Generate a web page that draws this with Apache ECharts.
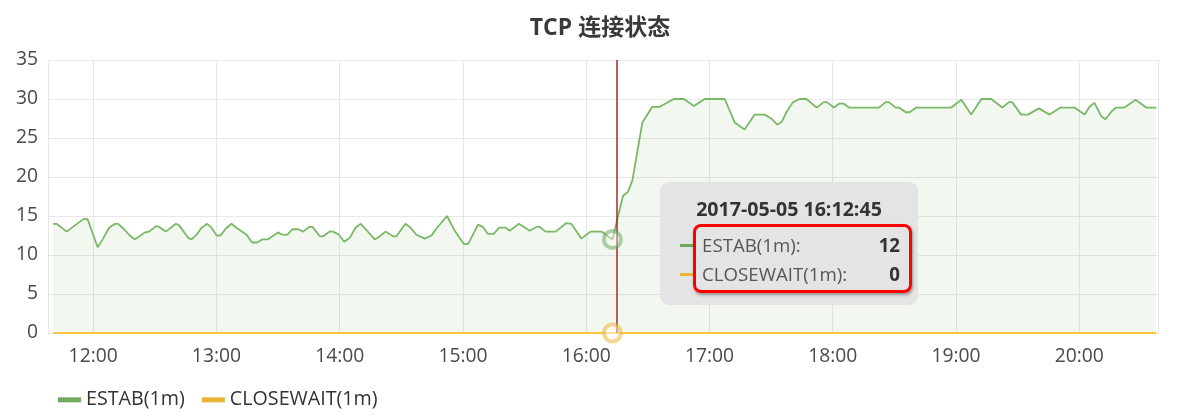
<!DOCTYPE html>
<html>
<head>
<meta charset="utf-8">
<script src="https://cdn.jsdelivr.net/npm/echarts@6/dist/echarts.min.js"></script>
<style>
  html, body { margin: 0; padding: 0; background: #fff; }
  #chart { width: 1200px; height: 418px; }
</style>
</head>
<body>
<div id="chart"></div>
<script>
// ---------- data ----------
const day = '2017-05-05';
const titleText = 'TCP 连接状态';
const seriesNames = ['ESTAB(1m)', 'CLOSEWAIT(1m)'];

const estabTimes = [
  '11:40:30','11:42:10','11:47:05','11:55:10','11:57:15','12:02:10','12:04:50','12:07:45','12:10:35','12:12:10',
  '12:14:35','12:17:50','12:20:15','12:25:10','12:27:15','12:30:30','12:32:05','12:35:20','12:40:15','12:41:50',
  '12:46:15','12:47:55','12:50:20','12:52:45','12:55:30','12:57:35','13:00:05','13:02:00','13:04:35','13:07:20',
  '13:10:15','13:14:40','13:17:20','13:19:50','13:22:15','13:24:50','13:30:00','13:32:00','13:34:35','13:37:00',
  '13:39:45','13:42:10','13:45:05','13:46:45','13:50:20','13:51:55','13:55:10','13:56:45','13:59:40','14:02:10',
  '14:04:55','14:07:40','14:10:15','14:12:40','14:17:05','14:19:30','14:22:15','14:26:00','14:27:35','14:32:00',
  '14:34:05','14:37:20','14:41:25','14:44:40','14:47:05','14:52:15','14:56:00','15:00:25','15:02:30','15:07:20',
  '15:09:45','15:12:10','15:15:00','15:17:35','15:20:50','15:22:45','15:27:15','15:32:30','15:35:45','15:37:20',
  '15:40:15','15:45:10','15:50:20','15:52:45','15:57:40','16:02:00','16:07:25','16:12:45','16:17:55','16:20:20',
  '16:22:30','16:27:20','16:32:10','16:35:45','16:42:35','16:47:35','16:52:25','16:57:40','17:07:25','17:12:15',
  '17:17:05','17:22:00','17:26:50','17:30:05','17:33:00','17:35:15','17:37:25','17:40:40','17:43:55','17:47:10',
  '17:52:15','17:55:35','17:57:10','18:00:35','18:03:00','18:05:25','18:07:50','18:22:30','18:25:45','18:27:20',
  '18:30:35','18:32:15','18:35:30','18:37:25','18:40:40','18:57:40','19:02:35','19:07:25','19:12:20','19:17:10',
  '19:22:30','19:25:45','19:27:20','19:31:45','19:35:00','19:40:20','19:45:30','19:50:55','19:57:40','20:02:35',
  '20:05:00','20:07:25','20:10:40','20:12:45','20:16:00','20:18:00','20:22:00','20:27:25','20:32:35','20:37:30'
];
const estabValues = [
  14,14,13,14.6,14.6,11,12.1,13.5,14,14,
  13.4,12.5,12,12.9,13,13.7,13.6,13,14,13.8,
  12.2,12,12.6,13.5,14,13.5,12.5,12.5,13.4,14,
  13.4,12.6,11.6,11.6,12,12,12.9,12.6,12.6,13.3,
  13.3,13,13.6,13.6,12.4,12.4,13,13,12.6,11.7,
  12.2,13.5,14,13.3,12,12.4,13,12.4,12.4,14,
  13.6,12.6,12.1,12.5,13.4,15,13.1,11.4,11.4,13.9,
  13.6,12.7,12.7,13.5,13.5,13.1,14,13.1,13.6,13.6,
  13,13,14.1,14,12.1,13,13,12,17.6,18.1,
  19.6,27,29,29,30,30,29.1,30,30,27,
  26.1,28,28,27.5,26.7,27.1,28.3,29.6,30,30,
  28.9,29.6,29.6,28.9,29.4,29.4,28.9,28.9,29.6,29.6,
  28.9,28.9,28.3,28.3,28.9,28.9,29.9,28,30,30,
  28.9,29.6,29.6,28,28,28.8,28,28.9,28.9,28,
  29,29.5,27.8,27.4,28.5,28.9,28.9,29.9,28.9,28.9
];
const closeTimes = ['11:40:30', '16:12:45', '20:37:30'];
const closeValues = [0, 0, 0];

const axisMinTime = '11:38:00';
const axisMaxTime = '20:38:20';
const yTicks = [0, 5, 10, 15, 20, 25, 30, 35];

const tipTime = '16:12:45';     // hovered sample shown in the tooltip
const cursorTime = '16:14:40';  // position of the red crosshair

// ---------- styles ----------
const GREEN = '#6fa85e';
const ORANGE = '#e8b43a';
const FONT = "'Open Sans', 'Noto Sans CJK SC', sans-serif";

const full = t => day + ' ' + t;
const estabData = estabTimes.map((t, i) => [full(t), estabValues[i]]);
const closeData = closeTimes.map((t, i) => [full(t), closeValues[i]]);
const tipIndex = estabTimes.indexOf(tipTime);
const closeTipIndex = closeTimes.indexOf(tipTime);

const chart = echarts.init(document.getElementById('chart'));

const option = {
  animation: false,
  backgroundColor: '#fff',
  title: {
    text: titleText,
    left: 'center',
    top: 12,
    textStyle: { fontFamily: FONT, fontSize: 23, fontWeight: 'bold', color: '#3a3a3a' }
  },
  legend: {
    data: seriesNames.map((n, i) => ({ name: n, itemStyle: { color: i === 0 ? GREEN : ORANGE } })),
    left: 53,
    top: 385,
    icon: 'rect',
    itemWidth: 23,
    itemHeight: 5,
    itemGap: 17,
    textStyle: { fontFamily: FONT, fontSize: 19.7, color: '#333' }
  },
  grid: { left: 48, right: 42, top: 60, bottom: 85 },
  tooltip: {
    trigger: 'axis',
    triggerOn: 'none',
    alwaysShowContent: true,
    transitionDuration: 0,
    axisPointer: { type: 'none' },
    position: [660, 182],
    padding: 0,
    backgroundColor: '#e4e4e4',
    borderWidth: 0,
    borderColor: 'transparent',
    borderRadius: 9,
    extraCssText: 'box-shadow:none;',
    formatter: function () {
      const v1 = estabValues[tipIndex];
      const v2 = closeValues[closeTipIndex];
      const row = (top, color, name, val) =>
        '<div style="position:absolute;left:20px;top:' + (top - 1.5) + 'px;width:16px;height:3px;background:' + color + ';"></div>' +
        '<div style="position:absolute;left:42px;top:' + (top - 13) + 'px;line-height:26px;font-size:18.7px;color:#555;">' + name + ':</div>' +
        '<div style="position:absolute;right:18px;top:' + (top - 13) + 'px;line-height:26px;font-size:18.7px;font-weight:bold;color:#333;">' + val + '</div>';
      return '<div style="position:relative;width:258px;height:123px;font-family:' + FONT.replace(/'/g, '&quot;') + ';">' +
        '<div style="position:absolute;left:0;right:0;top:13px;line-height:28px;text-align:center;font-size:19.6px;font-weight:bold;color:#333;">' + full(tipTime) + '</div>' +
        row(63, GREEN, seriesNames[0], v1) +
        row(92, ORANGE, seriesNames[1], v2) +
        '<div style="position:absolute;left:33px;top:42px;width:213px;height:63px;border:3.5px solid #f00;border-radius:8px;box-shadow:1px 2px 3px rgba(0,0,0,0.35);"></div>' +
        '</div>';
    }
  },
  xAxis: {
    type: 'time',
    min: full(axisMinTime),
    max: full(axisMaxTime),
    minInterval: 3600 * 1000,
    maxInterval: 3600 * 1000,
    axisLine: { show: false },
    axisTick: { show: false },
    splitLine: { show: true, lineStyle: { color: '#e6e6e6', width: 1 } },
    axisLabel: {
      margin: 14,
      fontFamily: FONT,
      fontSize: 19.3,
      color: '#4a4a4a',
      showMinLabel: false,
      showMaxLabel: false,
      formatter: '{HH}:{mm}'
    }
  },
  yAxis: {
    type: 'value',
    min: yTicks[0],
    max: yTicks[yTicks.length - 1],
    interval: yTicks[1] - yTicks[0],
    axisLine: { show: false },
    axisTick: { show: false },
    splitLine: { lineStyle: { color: '#e8e8e8', width: 1 } },
    axisLabel: { margin: 10, fontFamily: FONT, fontSize: 19.3, color: '#4a4a4a' }
  },
  series: [
    {
      name: seriesNames[0],
      type: 'line',
      data: estabData,
      symbol: 'none',
      color: GREEN,
      lineStyle: { color: GREEN, width: 1.8 },
      areaStyle: { color: 'rgba(118,172,100,0.15)' },
      z: 3,
      markLine: {
        silent: true,
        symbol: 'none',
        label: { show: false },
        lineStyle: { color: '#a8282c', width: 1.5, type: 'solid' },
        data: [{ xAxis: full(cursorTime) }]
      },
      markPoint: {
        silent: true,
        symbol: 'circle',
        symbolSize: 17,
        label: { show: false },
        itemStyle: { color: 'rgba(255,255,255,0.35)', borderColor: 'rgba(111,168,94,0.55)', borderWidth: 4 },
        data: [{ coord: estabData[tipIndex] }]
      }
    },
    {
      name: seriesNames[1],
      type: 'line',
      data: closeData,
      symbol: 'none',
      color: ORANGE,
      lineStyle: { color: ORANGE, width: 2 },
      z: 4,
      markPoint: {
        silent: true,
        symbol: 'circle',
        symbolSize: 17,
        label: { show: false },
        itemStyle: { color: 'rgba(255,255,255,0.45)', borderColor: 'rgba(232,180,58,0.55)', borderWidth: 4 },
        data: [{ coord: closeData[closeTipIndex] }]
      }
    }
  ]
};

chart.setOption(option);
chart.dispatchAction({ type: 'showTip', seriesIndex: 0, dataIndex: tipIndex });
</script>
</body>
</html>
